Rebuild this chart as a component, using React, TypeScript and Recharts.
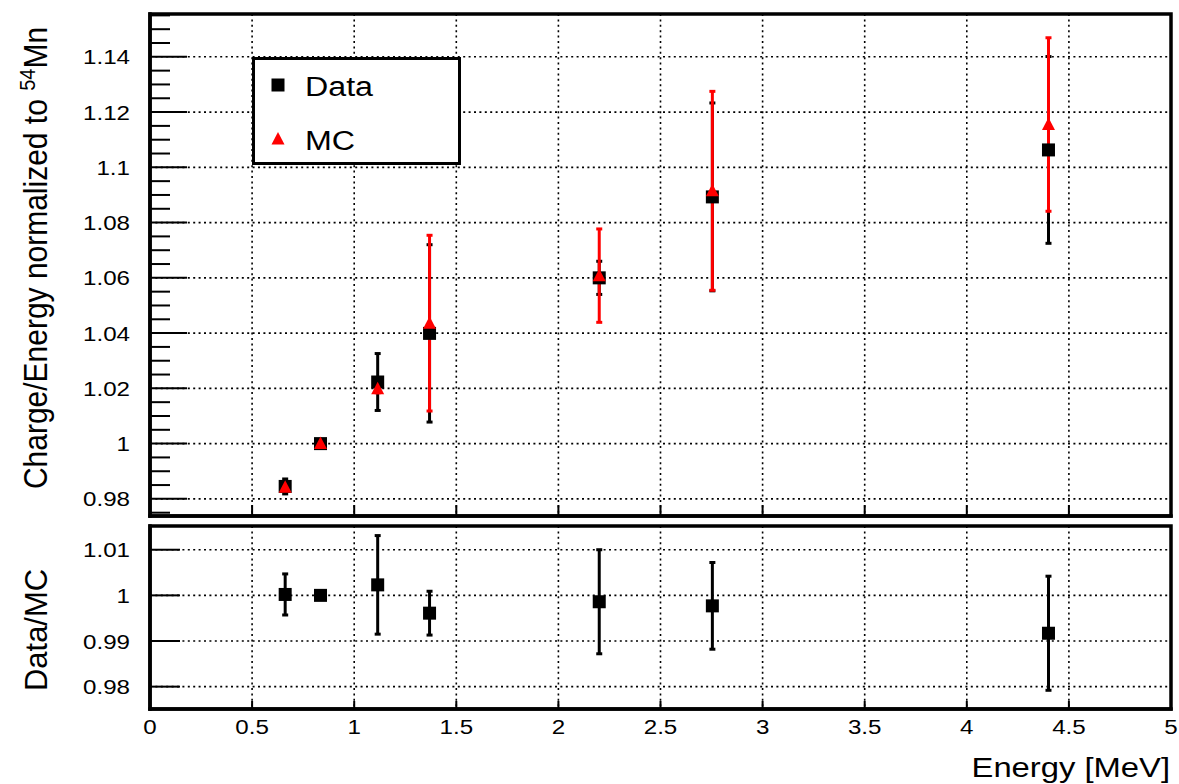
import React from 'react';
import { ScatterChart, Scatter, XAxis, YAxis, CartesianGrid, ErrorBar, Legend, ReferenceArea } from 'recharts';

// ---- data ----
const ENERGY = [0.662, 0.835, 1.115, 1.369, 2.2, 2.754, 4.4];
const DATA_VAL = [0.9845, 1.0, 1.0223, 1.0399, 1.06, 1.0893, 1.1063];
const DATA_ERR = [0.0027, 0, 0.0103, 0.0321, 0.006, 0.034, 0.0338];
const MC_VAL = [0.9842, 1.0, 1.0199, 1.0436, 1.0608, 1.0915, 1.1155];
const MC_ERR = [0.001, 0, 0.0015, 0.0318, 0.0169, 0.036, 0.0314];
const RATIO_VAL = [1.0002, 1.0, 1.0023, 0.9961, 0.9986, 0.9977, 0.9917];
const RATIO_ERR = [0.0045, 0, 0.0108, 0.0048, 0.0114, 0.0095, 0.0125];

// ---- ticks ----
const X_TICKS = [0, 0.5, 1, 1.5, 2, 2.5, 3, 3.5, 4, 4.5, 5];
const X_LABELS = ['0', '0.5', '1', '1.5', '2', '2.5', '3', '3.5', '4', '4.5', '5'];
const TOP_MAJOR = [0.98, 1.0, 1.02, 1.04, 1.06, 1.08, 1.1, 1.12, 1.14];
const TOP_LABELS = ['0.98', '1', '1.02', '1.04', '1.06', '1.08', '1.1', '1.12', '1.14'];
const TOP_MINOR = Array.from({ length: 37 }, (_, i) => Math.round((0.975 + i * 0.005) * 1000) / 1000);
const BOT_MAJOR = [0.98, 0.99, 1.0, 1.01];
const BOT_LABELS = ['0.98', '0.99', '1', '1.01'];
const X_DOMAIN = [0, 5];
const TOP_DOMAIN = [0.9738, 1.1555];
const BOT_DOMAIN = [0.9751, 1.0152];

const SERIES = [
  { name: 'Data', color: '#000000', marker: 'square' },
  { name: 'MC', color: '#ff0000', marker: 'triangle' },
];

const FONT = '"Liberation Sans", Arial, Helvetica, sans-serif';
const SX = 1.15;

const dataRows = ENERGY.map((e, i) => ({ x: e, y: DATA_VAL[i], err: DATA_ERR[i] }));
const mcRows = ENERGY.map((e, i) => ({ x: e, y: MC_VAL[i], err: MC_ERR[i] }));
const ratioRows = ENERGY.map((e, i) => ({ x: e, y: RATIO_VAL[i], err: RATIO_ERR[i] }));

const isIn = (arr: number[], v: number) => arr.findIndex((m) => Math.abs(m - v) < 1e-6);

const SquareShape = (p: any) => {
  const { cx, cy } = p;
  if (cx == null || cy == null) return null;
  return <rect x={cx - 6.5} y={cy - 6.5} width={13} height={13} fill="#000" />;
};
const TriangleShape = (p: any) => {
  const { cx, cy } = p;
  if (cx == null || cy == null) return null;
  return <polygon points={`${cx},${cy - 7} ${cx - 6.5},${cy + 5.5} ${cx + 6.5},${cy + 5.5}`} fill="#ff0000" />;
};

const makeYTick = (side: 'left' | 'right', majors: number[], labels: string[] | null, majorLen: number, minorLen: number) =>
  (props: any) => {
    const { x, y, payload } = props;
    const idx = isIn(majors, payload.value);
    const len = idx >= 0 ? majorLen : minorLen;
    const dir = side === 'left' ? 1 : -1;
    return (
      <g>
        <line x1={x} x2={x + dir * len} y1={y} y2={y} stroke="#000" strokeWidth={2} />
        {labels && idx >= 0 && (
          <text
            transform={`translate(${x - 20},${y}) scale(${SX},1)`}
            textAnchor="end"
            dy="0.36em"
            fontSize={21}
            fontFamily={FONT}
            fill="#000"
            stroke="none"
          >
            {labels[idx]}
          </text>
        )}
      </g>
    );
  };

const makeXTick = (side: 'top' | 'bottom', len: number, withLabels: boolean) => (props: any) => {
  const { x, y, payload } = props;
  const dir = side === 'top' ? 1 : -1;
  const idx = isIn(X_TICKS, payload.value);
  return (
    <g>
      <line x1={x} x2={x} y1={y} y2={y + dir * len} stroke="#000" strokeWidth={2} />
      {withLabels && idx >= 0 && (
        <text
          transform={`translate(${x},${y + 25}) scale(${SX},1)`}
          textAnchor="middle"
          fontSize={21}
          fontFamily={FONT}
          fill="#000"
          stroke="none"
        >
          {X_LABELS[idx]}
        </text>
      )}
    </g>
  );
};

const frameLine = { stroke: '#000', strokeWidth: 3.5, strokeLinecap: 'square' as const };
const axisCommon = {
  type: 'number' as const,
  interval: 0 as const,
  allowDataOverflow: true,
  tickSize: 0,
  tickMargin: 0,
  tickLine: false,
  axisLine: frameLine,
  stroke: '#000',
  strokeWidth: 3.5,
};

const LegendBox = (props: any) => {
  const payload = props.payload || [];
  return (
    <svg width={209} height={108} style={{ display: 'block' }}>
      <rect x={1.5} y={1.5} width={206} height={105} fill="#fff" stroke="#000" strokeWidth={3} />
      {payload.map((entry: any, i: number) => {
        const s = SERIES.find((q) => q.name === entry.value) || SERIES[i];
        const cy = 28 + i * 54;
        return (
          <g key={s.name}>
            {s.marker === 'square' ? (
              <rect x={26 - 6.5} y={cy - 6.5} width={13} height={13} fill={s.color} />
            ) : (
              <polygon points={`26,${cy - 7} ${19.5},${cy + 5.5} ${32.5},${cy + 5.5}`} fill={s.color} />
            )}
            <text
              transform={`translate(53,${cy + 11}) scale(${SX},1)`}
              fontSize={28}
              fontFamily={FONT}
              fill="#000"
            >
              {s.name}
            </text>
          </g>
        );
      })}
    </svg>
  );
};

export default function App() {
  return (
    <div style={{ position: 'absolute', left: 0, top: 0, width: 1179, height: 784, background: '#fff', overflow: 'hidden' }}>
      <div style={{ position: 'absolute', left: 0, top: 0 }}>
        <ScatterChart width={1179} height={530} margin={{ top: 14, right: 8, bottom: 0, left: 0 }}>
          <CartesianGrid
            stroke="#000"
            strokeWidth={1.6}
            strokeDasharray="2 3.4"
            horizontalValues={TOP_MAJOR}
            verticalValues={X_TICKS}
          />
          <XAxis {...axisCommon} dataKey="x" domain={X_DOMAIN} ticks={X_TICKS} height={14} tick={makeXTick('bottom', 11, false)} />
          <XAxis
            {...axisCommon}
            xAxisId="top"
            orientation="top"
            dataKey="x"
            domain={X_DOMAIN}
            ticks={X_TICKS}
            height={0}
            tick={makeXTick('top', 9, false)}
          />
          <YAxis
            {...axisCommon}
            dataKey="y"
            domain={TOP_DOMAIN}
            ticks={TOP_MINOR}
            width={150}
            tick={makeYTick('left', TOP_MAJOR, TOP_LABELS, 37, 20)}
          />
          <YAxis
            {...axisCommon}
            yAxisId="right"
            orientation="right"
            dataKey="y"
            domain={TOP_DOMAIN}
            ticks={TOP_MINOR}
            width={0}
            tick={makeYTick('right', TOP_MAJOR, null, 37, 19)}
          />
          <ReferenceArea
            x1={X_DOMAIN[0]}
            x2={X_DOMAIN[1]}
            y1={TOP_DOMAIN[0]}
            y2={TOP_DOMAIN[1]}
            fill="none"
            fillOpacity={0}
            stroke="#000"
            strokeWidth={3.5}
            ifOverflow="visible"
          />
          <Legend
            layout="horizontal"
            verticalAlign="middle"
            align="center"
            wrapperStyle={{ left: 252, top: 57, width: 209, height: 108 }}
            content={(p: any) => <LegendBox {...p} />}
          />
          <Scatter name="Data" data={dataRows} fill="#000" shape={SquareShape} isAnimationActive={false}>
            <ErrorBar dataKey="err" direction="y" width={3} strokeWidth={3} stroke="#000" />
          </Scatter>
          <Scatter name="MC" data={mcRows} fill="#ff0000" shape={TriangleShape} isAnimationActive={false}>
            <ErrorBar dataKey="err" direction="y" width={3} strokeWidth={3} stroke="#ff0000" />
          </Scatter>
        </ScatterChart>
      </div>

      <div style={{ position: 'absolute', left: 0, top: 516 }}>
        <ScatterChart width={1179} height={268} margin={{ top: 10, right: 8, bottom: 0, left: 0 }}>
          <CartesianGrid
            stroke="#000"
            strokeWidth={1.6}
            strokeDasharray="2 3.4"
            horizontalValues={BOT_MAJOR}
            verticalValues={X_TICKS}
          />
          <XAxis {...axisCommon} dataKey="x" domain={X_DOMAIN} ticks={X_TICKS} height={75} tick={makeXTick('bottom', 8, true)} />
          <XAxis
            {...axisCommon}
            xAxisId="top"
            orientation="top"
            dataKey="x"
            domain={X_DOMAIN}
            ticks={X_TICKS}
            height={0}
            tick={makeXTick('top', 5, false)}
          />
          <YAxis
            {...axisCommon}
            dataKey="y"
            domain={BOT_DOMAIN}
            ticks={BOT_MAJOR}
            width={150}
            tick={makeYTick('left', BOT_MAJOR, BOT_LABELS, 30, 30)}
          />
          <YAxis
            {...axisCommon}
            yAxisId="right"
            orientation="right"
            dataKey="y"
            domain={BOT_DOMAIN}
            ticks={BOT_MAJOR}
            width={0}
            tick={makeYTick('right', BOT_MAJOR, null, 27, 27)}
          />
          <ReferenceArea
            x1={X_DOMAIN[0]}
            x2={X_DOMAIN[1]}
            y1={BOT_DOMAIN[0]}
            y2={BOT_DOMAIN[1]}
            fill="none"
            fillOpacity={0}
            stroke="#000"
            strokeWidth={3.5}
            ifOverflow="visible"
          />
          <Scatter name="Data/MC" data={ratioRows} fill="#000" shape={SquareShape} isAnimationActive={false}>
            <ErrorBar dataKey="err" direction="y" width={3} strokeWidth={3} stroke="#000" />
          </Scatter>
        </ScatterChart>
      </div>

      <svg width={1179} height={784} style={{ position: 'absolute', left: 0, top: 0, pointerEvents: 'none' }}>
        <text transform="translate(47,258) rotate(-90) scale(1,1.1)" textAnchor="middle" fontSize={30} fontFamily={FONT} fill="#000">
          Charge/Energy normalized to <tspan dy={-11} fontSize={20}>54</tspan>
          <tspan dy={11}>Mn</tspan>
        </text>
        <text
          transform="translate(47,630) rotate(-90) scale(1,1.1)"
          textAnchor="middle"
          fontSize={29}
          fontFamily={FONT}
          fill="#000"
          textLength={122}
          lengthAdjust="spacingAndGlyphs"
        >
          Data/MC
        </text>
        <text transform={`translate(1170,777) scale(1.17,1)`} textAnchor="end" fontSize={28} fontFamily={FONT} fill="#000">
          Energy [MeV]
        </text>
      </svg>
    </div>
  );
}
